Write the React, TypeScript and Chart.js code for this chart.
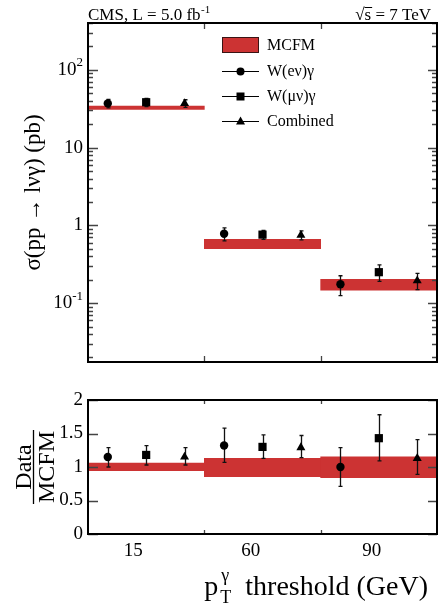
import React, { useEffect, useRef } from 'react';
import { Chart, registerables } from 'chart.js';
Chart.register(...registerables);

// ---- data ----
const binLabels = ['15', '60', '90'];
const mcfm = [32.6, 0.575, 0.175];
const mcfmLo = [31.0, 0.50, 0.147];
const mcfmHi = [34.2, 0.66, 0.202];
const sigmaE = [37.0, 0.78, 0.175];
const sigmaEErr = [4.6, 0.15, 0.05];
const sigmaMu = [38.3, 0.76, 0.25];
const sigmaMuErr = [4.6, 0.10, 0.06];
const sigmaComb = [37.0, 0.75, 0.195];
const sigmaCombErr = [4.2, 0.10, 0.046];
const ratioBandLo = [0.945, 0.855, 0.84];
const ratioBandHi = [1.06, 1.13, 1.15];
const ratioE = [1.15, 1.32, 1.0];
const ratioELo = [1.0, 1.07, 0.71];
const ratioEHi = [1.29, 1.58, 1.29];
const ratioMu = [1.18, 1.30, 1.43];
const ratioMuLo = [1.03, 1.13, 1.09];
const ratioMuHi = [1.32, 1.48, 1.78];
const ratioComb = [1.15, 1.29, 1.13];
const ratioCombLo = [1.03, 1.14, 0.89];
const ratioCombHi = [1.29, 1.47, 1.41];
const topDecades = [-1, 0, 1, 2];
const ratioTicks = [0, 0.5, 1, 1.5, 2];
const ratioTickLabels = ['0', '0.5', '1', '1.5', '2'];
const xLabelPos = [0.39, 1.4, 2.44];
const legendNames = ['MCFM', 'W(e\u03bd)\u03b3', 'W(\u03bc\u03bd)\u03b3', 'Combined'];

const SERIF = '"Liberation Serif", "Times New Roman", serif';
const RED = '#cc3333';
const xOff = [-0.33, 0, 0.33];
const styles = ['circle', 'rect', 'triangle'];
const radii = [4.2, 5.8, 5.2];

function pts(vals: number[], k: number) {
  return vals.map((v, i) => ({ x: i + 0.5 + xOff[k], y: v }));
}

function markerDatasets(series: number[][]) {
  return series.map((vals, k) => ({
    type: 'scatter' as const,
    data: pts(vals, k),
    pointStyle: styles[k],
    pointRadius: radii[k],
    pointBackgroundColor: '#000',
    pointBorderColor: '#000',
    pointBorderWidth: 0,
    showLine: false,
    order: 1,
  }));
}

function drawErrors(chart: any, los: number[][], his: number[][]) {
  const { ctx, scales } = chart;
  const x = scales.x, y = scales.y;
  ctx.save();
  ctx.strokeStyle = '#111';
  ctx.lineWidth = 1.3;
  los.forEach((lo, k) => {
    lo.forEach((l, i) => {
      const px = Math.round(x.getPixelForValue(i + 0.5 + xOff[k])) + 0.5;
      const y1 = y.getPixelForValue(l);
      const y2 = y.getPixelForValue(his[k][i]);
      ctx.beginPath();
      ctx.moveTo(px, y1); ctx.lineTo(px, y2);
      ctx.moveTo(px - 2, y1); ctx.lineTo(px + 2, y1);
      ctx.moveTo(px - 2, y2); ctx.lineTo(px + 2, y2);
      ctx.stroke();
    });
  });
  ctx.restore();
}

function drawFrame(chart: any, xTickLen: number) {
  const { ctx, chartArea: a, scales } = chart;
  ctx.save();
  ctx.strokeStyle = '#444';
  ctx.lineWidth = 1.3;
  [1, 2].forEach((b) => {
    const px = Math.round(scales.x.getPixelForValue(b)) + 0.5;
    ctx.beginPath();
    ctx.moveTo(px, a.top); ctx.lineTo(px, a.top + xTickLen);
    ctx.moveTo(px, a.bottom); ctx.lineTo(px, a.bottom - xTickLen);
    ctx.stroke();
  });
  ctx.strokeStyle = '#000';
  ctx.lineWidth = 2;
  ctx.strokeRect(a.left, a.top, a.right - a.left, a.bottom - a.top);
  ctx.restore();
}

function drawLegendMarker(ctx: any, k: number, x: number, y: number) {
  ctx.beginPath();
  if (k === 0) ctx.arc(x, y, 4, 0, Math.PI * 2);
  else if (k === 1) ctx.rect(x - 4, y - 4, 8, 8);
  else { ctx.moveTo(x, y - 5); ctx.lineTo(x + 4.5, y + 3); ctx.lineTo(x - 4.5, y + 3); ctx.closePath(); }
  ctx.fill();
}

const topPlugin = {
  id: 'topDeco',
  afterDatasetDraw(chart: any, args: any) {
    if (args.index !== 0) return;
    const errs = [sigmaEErr, sigmaMuErr, sigmaCombErr];
    const lo = [sigmaE, sigmaMu, sigmaComb].map((s, k) => s.map((v, i) => v - errs[k][i]));
    const hi = [sigmaE, sigmaMu, sigmaComb].map((s, k) => s.map((v, i) => v + errs[k][i]));
    drawErrors(chart, lo, hi);
  },
  afterDraw(chart: any) {
    const { ctx, chartArea: a, scales } = chart;
    const y = scales.y;
    ctx.save();
    ctx.strokeStyle = '#444';
    ctx.lineWidth = 1.3;
    for (let d = -2; d <= 3; d++) {
      for (let m = 1; m <= 9; m++) {
        const v = m * Math.pow(10, d);
        if (v < y.min || v > y.max) continue;
        const py = Math.round(y.getPixelForValue(v)) + 0.5;
        const major = m === 1;
        ctx.beginPath();
        ctx.moveTo(a.left, py); ctx.lineTo(a.left + (major ? 10 : 5), py);
        ctx.moveTo(a.right, py); ctx.lineTo(a.right - (major ? 9 : 5), py);
        ctx.stroke();
      }
    }
    ctx.restore();
    drawFrame(chart, 6);
    ctx.save();
    ctx.fillStyle = '#000';
    ctx.textBaseline = 'middle';
    topDecades.forEach((d) => {
      const py = y.getPixelForValue(Math.pow(10, d));
      const right = a.left - 5;
      ctx.textAlign = 'right';
      if (d === 0 || d === 1) {
        ctx.font = `19px ${SERIF}`;
        ctx.fillText(d === 0 ? '1' : '10', right, py);
      } else {
        const exp = String(d);
        ctx.font = `13px ${SERIF}`;
        const ew = ctx.measureText(exp).width;
        ctx.fillText(exp, right, py - 7);
        ctx.font = `19px ${SERIF}`;
        ctx.fillText('10', right - ew, py);
      }
    });
    ctx.translate(34, (a.top + a.bottom) / 2);
    ctx.rotate(-Math.PI / 2);
    ctx.font = `23px ${SERIF}`;
    ctx.textAlign = 'center';
    ctx.textBaseline = 'middle';
    ctx.fillText('\u03c3(pp \u2192 l\u03bd\u03b3) (pb)', 0, 0);
    ctx.restore();
    // header
    ctx.save();
    ctx.fillStyle = '#000';
    ctx.font = `17px ${SERIF}`;
    ctx.textBaseline = 'alphabetic';
    ctx.textAlign = 'left';
    const h1 = 'CMS, L = 5.0 fb';
    ctx.fillText(h1, a.left, 20);
    const w1 = ctx.measureText(h1).width;
    ctx.font = `11px ${SERIF}`;
    ctx.fillText('-1', a.left + w1 + 0.5, 13);
    ctx.font = `17px ${SERIF}`;
    ctx.textAlign = 'right';
    const h2 = 's = 7 TeV';
    const rx = 431;
    ctx.fillText(h2, rx, 20);
    const w2 = ctx.measureText(h2).width;
    const sw = ctx.measureText('s').width;
    const sx = rx - w2;
    ctx.fillText('\u221a', sx, 20);
    ctx.lineWidth = 1;
    ctx.beginPath();
    ctx.moveTo(sx, 7.5); ctx.lineTo(sx + sw + 1, 7.5);
    ctx.stroke();
    ctx.restore();
    // legend
    ctx.save();
    ctx.fillStyle = RED;
    ctx.fillRect(222, 37, 37, 15);
    ctx.strokeStyle = '#3a1414';
    ctx.lineWidth = 1;
    ctx.strokeRect(222.5, 37.5, 36, 15);
    ctx.fillStyle = '#000';
    ctx.font = `16px ${SERIF}`;
    ctx.textAlign = 'left';
    ctx.textBaseline = 'middle';
    ctx.fillText(legendNames[0], 267, 46);
    const ly = [71, 96, 121];
    [0, 1, 2].forEach((k) => {
      ctx.strokeStyle = '#000';
      ctx.lineWidth = 1;
      ctx.beginPath();
      ctx.moveTo(222, ly[k] + 0.5); ctx.lineTo(259, ly[k] + 0.5);
      ctx.stroke();
      drawLegendMarker(ctx, k, 240.5, ly[k] + 0.5);
      ctx.font = `16px ${SERIF}`;
      ctx.fillText(legendNames[k + 1], 267, ly[k] + 1);
    });
    ctx.restore();
  },
};

const bottomPlugin = {
  id: 'botDeco',
  afterDatasetDraw(chart: any, args: any) {
    if (args.index !== 0) return;
    drawErrors(chart, [ratioELo, ratioMuLo, ratioCombLo], [ratioEHi, ratioMuHi, ratioCombHi]);
  },
  afterDraw(chart: any) {
    const { ctx, chartArea: a, scales } = chart;
    const y = scales.y, x = scales.x;
    ctx.save();
    ctx.strokeStyle = '#444';
    ctx.lineWidth = 1.3;
    ratioTicks.forEach((v) => {
      const py = Math.round(y.getPixelForValue(v)) + 0.5;
      ctx.beginPath();
      ctx.moveTo(a.left, py); ctx.lineTo(a.left + 10, py);
      ctx.moveTo(a.right, py); ctx.lineTo(a.right - 9, py);
      ctx.stroke();
    });
    ctx.restore();
    drawFrame(chart, 4);
    ctx.save();
    ctx.fillStyle = '#000';
    ctx.font = `19px ${SERIF}`;
    ctx.textAlign = 'right';
    ctx.textBaseline = 'middle';
    ratioTicks.forEach((v, i) => ctx.fillText(ratioTickLabels[i], a.left - 5, y.getPixelForValue(v)));
    ctx.textAlign = 'center';
    binLabels.forEach((l, i) => ctx.fillText(l, x.getPixelForValue(xLabelPos[i]), a.bottom + 17));
    // x title
    ctx.textAlign = 'left';
    ctx.textBaseline = 'alphabetic';
    ctx.font = `28px ${SERIF}`;
    const main = ' threshold (GeV)';
    const mw = ctx.measureText(main).width;
    const baseY = a.bottom + 61;
    const xs = 428 - mw;
    ctx.fillText(main, xs, baseY);
    ctx.font = `18px ${SERIF}`;
    const subW = Math.max(ctx.measureText('T').width, ctx.measureText('\u03b3').width);
    const subX = xs - subW - 7;
    ctx.fillText('T', subX, baseY + 8);
    ctx.fillText('\u03b3', subX + 1, baseY - 14);
    ctx.font = `28px ${SERIF}`;
    const pw = ctx.measureText('p').width;
    ctx.fillText('p', subX - pw - 2, baseY);
    // y title fraction
    ctx.translate(33, (a.top + a.bottom) / 2);
    ctx.rotate(-Math.PI / 2);
    ctx.font = `24px ${SERIF}`;
    ctx.textAlign = 'center';
    ctx.textBaseline = 'alphabetic';
    ctx.fillText('Data', 0, -2);
    const fw = ctx.measureText('MCFM').width;
    ctx.lineWidth = 1.3;
    ctx.strokeStyle = '#000';
    ctx.beginPath();
    ctx.moveTo(-fw / 2 - 1, 0.5); ctx.lineTo(fw / 2 + 1, 0.5);
    ctx.stroke();
    ctx.textBaseline = 'top';
    ctx.fillText('MCFM', 0, 3);
    ctx.restore();
  },
};

const xScale = { type: 'linear', min: 0, max: 3, display: false, offset: false, ticks: { stepSize: 1 } };

export default function App() {
  const topRef = useRef<HTMLCanvasElement>(null);
  const botRef = useRef<HTMLCanvasElement>(null);

  useEffect(() => {
    const top = new Chart(topRef.current as HTMLCanvasElement, {
      type: 'bar',
      data: {
        datasets: [
          {
            type: 'bar',
            data: mcfm.map((_, i) => ({ x: i + 0.5, y: [mcfmLo[i], mcfmHi[i]] })) as any,
            backgroundColor: RED,
            borderWidth: 0,
            barPercentage: 1,
            categoryPercentage: 1,
            order: 3,
          } as any,
          ...markerDatasets([sigmaE, sigmaMu, sigmaComb]),
        ],
      },
      options: {
        responsive: false,
        animation: false,
        layout: { padding: { left: 88, right: 7, top: 23, bottom: 10 } },
        scales: {
          x: xScale,
          y: { type: 'logarithmic', min: 0.0175, max: 400, display: false },
        },
        plugins: { legend: { display: false }, tooltip: { enabled: false } },
      },
      plugins: [topPlugin],
    } as any);

    const bot = new Chart(botRef.current as HTMLCanvasElement, {
      type: 'bar',
      data: {
        datasets: [
          {
            type: 'bar',
            data: ratioBandLo.map((l, i) => ({ x: i + 0.5, y: [l, ratioBandHi[i]] })) as any,
            backgroundColor: RED,
            borderWidth: 0,
            barPercentage: 1,
            categoryPercentage: 1,
            order: 3,
          } as any,
          ...markerDatasets([ratioE, ratioMu, ratioComb]),
        ],
      },
      options: {
        responsive: false,
        animation: false,
        layout: { padding: { left: 88, right: 7, top: 28, bottom: 78 } },
        scales: {
          x: xScale,
          y: { type: 'linear', min: 0, max: 2, display: false },
        },
        plugins: { legend: { display: false }, tooltip: { enabled: false } },
      },
      plugins: [bottomPlugin],
    } as any);

    return () => {
      top.destroy();
      bot.destroy();
    };
  }, []);

  return (
    <div style={{ position: 'absolute', left: 0, top: 0, width: 444, height: 612, background: '#fff' }}>
      <canvas ref={topRef} width={444} height={372} style={{ position: 'absolute', left: 0, top: 0 }} />
      <canvas ref={botRef} width={444} height={240} style={{ position: 'absolute', left: 0, top: 372 }} />
    </div>
  );
}
